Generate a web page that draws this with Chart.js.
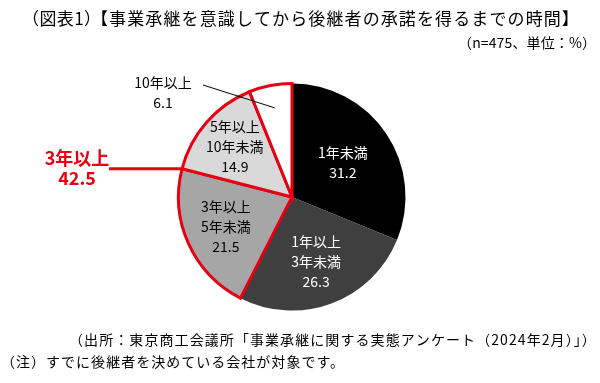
<!DOCTYPE html>
<html><head><meta charset="utf-8">
<script src="https://cdn.jsdelivr.net/npm/chart.js@4/dist/chart.umd.min.js"></script>
<style>html,body{margin:0;padding:0;background:#fff}canvas{display:block}</style>
</head><body>
<canvas id="c" width="600" height="383" style="width:600px;height:383px"></canvas>
<script>
const categories = ['1年未満', '1年以上\n3年未満', '3年以上\n5年未満', '5年以上\n10年未満', '10年以上'];
const values = [31.2, 26.3, 21.5, 14.9, 6.1];
const groupLabel = '3年以上';
const groupValue = 42.5;
const titleHead = '（図表1）';
const titleText = '【事業承継を意識してから後継者の承諾を得るまでの時間】';
const unitText = '（n=475、単位：%）';
const sourceText = '（出所：東京商工会議所「事業承継に関する実態アンケート（2024年2月）」）';
const noteText = '（注）すでに後継者を決めている会社が対象です。';

const FONT = '"Noto Sans CJK JP", "Noto Sans", sans-serif';
const fills = ['#000000', '#3f3f3f', '#a6a6a6', '#d9d9d9', '#ffffff'];
const textCols = ['#ffffff', '#ffffff', '#000000', '#000000', '#000000'];
const RED = '#e60012';
const labelR = [0.54, 0.61, 0.64, 0.67, 0];

// draw text so that its ink spans [inkL, inkR]
function fitInk(ctx, text, inkL, inkR, y) {
  ctx.textAlign = 'left';
  ctx.letterSpacing = '0px';
  let m = ctx.measureText(text);
  let w0 = m.actualBoundingBoxLeft + m.actualBoundingBoxRight;
  const n = Array.from(text).length;
  let s = (inkR - inkL - w0) / Math.max(1, n - 1);
  ctx.letterSpacing = s.toFixed(2) + 'px';
  m = ctx.measureText(text);
  let w1 = m.actualBoundingBoxLeft + m.actualBoundingBoxRight;
  if (Math.abs(w1 - w0) > 0.01) {
    // refine linearly
    s = s * (inkR - inkL - w0) / (w1 - w0);
    ctx.letterSpacing = s.toFixed(2) + 'px';
    m = ctx.measureText(text);
  }
  ctx.fillText(text, inkL + m.actualBoundingBoxLeft, y);
  ctx.letterSpacing = '0px';
}

const textPlugin = {
  id: 'texts',
  afterDraw(chart) {
    const ctx = chart.ctx;
    ctx.save();
    ctx.textBaseline = 'middle';
    ctx.fillStyle = '#000';
    ctx.font = '17px ' + FONT;
    fitInk(ctx, titleHead, 33, 90, 19);
    fitInk(ctx, titleText, 102, 568, 19);
    ctx.font = '14px ' + FONT;
    fitInk(ctx, unitText, 467, 587, 43);
    fitInk(ctx, sourceText, 78, 587, 340);
    fitInk(ctx, noteText, 10, 335, 362);

    const meta = chart.getDatasetMeta(0);
    const arcs = meta.data;
    ctx.textAlign = 'center';
    ctx.font = '14px ' + FONT;
    arcs.forEach((a, i) => {
      const lines = categories[i].split('\n').concat([values[i].toFixed(1)]);
      const mid = (a.startAngle + a.endAngle) / 2;
      ctx.fillStyle = textCols[i];
      if (labelR[i] > 0) {
        const r = a.outerRadius * labelR[i];
        const px = a.x + r * Math.cos(mid);
        const py = a.y + r * Math.sin(mid);
        const lh = 20;
        const y0 = py - (lines.length - 1) * lh / 2;
        lines.forEach((t, k) => ctx.fillText(t, px, y0 + k * lh));
      } else {
        const ex = a.x + a.outerRadius * 0.8 * Math.cos(mid);
        const ey = a.y + a.outerRadius * 0.8 * Math.sin(mid);
        const lx = a.x - 129, ly = a.y - 114;
        ctx.strokeStyle = '#000';
        ctx.lineWidth = 1;
        ctx.beginPath();
        ctx.moveTo(lx + 40, ly + 2);
        ctx.lineTo(ex, ey);
        ctx.stroke();
        ctx.fillStyle = '#000';
        lines.forEach((t, k) => ctx.fillText(t, lx, ly + k * 20));
      }
    });
    const a3 = arcs[3];
    const bx = a3.x + a3.outerRadius * Math.cos(a3.startAngle);
    const by = a3.y + a3.outerRadius * Math.sin(a3.startAngle);
    ctx.strokeStyle = RED;
    ctx.lineWidth = 3;
    ctx.beginPath();
    ctx.moveTo(109, by);
    ctx.lineTo(bx, by);
    ctx.stroke();
    ctx.fillStyle = RED;
    ctx.textAlign = 'center';
    ctx.font = 'bold 18px ' + FONT;
    ctx.fillText(groupLabel, 77, 158);
    ctx.fillText(groupValue.toFixed(1), 77, 178);
    ctx.restore();
  }
};

new Chart(document.getElementById('c'), {
  type: 'pie',
  data: {
    labels: categories,
    datasets: [{
      data: values,
      backgroundColor: fills,
      borderColor: ['#000', '#3f3f3f', RED, RED, RED],
      borderWidth: [0, 0, 3, 3, 3],
      borderJoinStyle: 'miter'
    }]
  },
  options: {
    responsive: false,
    animation: false,
    devicePixelRatio: 1,
    layout: { padding: { top: 82, bottom: 71, left: 177, right: 193 } },
    plugins: { legend: { display: false }, tooltip: { enabled: false }, title: { display: false } }
  },
  plugins: [textPlugin]
});
</script>
</body></html>
